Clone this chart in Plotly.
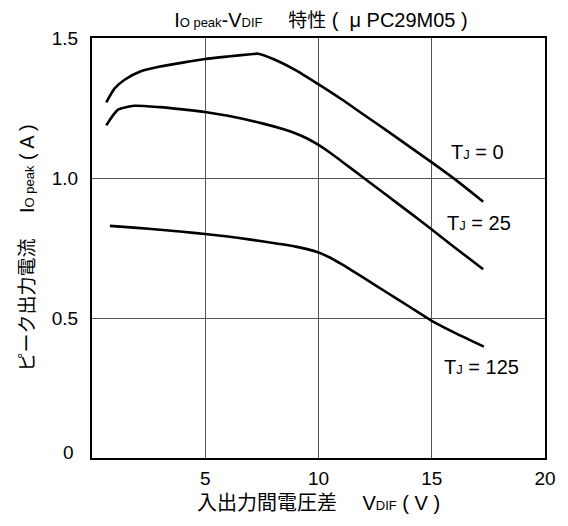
import plotly.graph_objects as go

# Tj = 0 °C
x_tj0 = [0.63, 1.0, 1.44, 2.16, 3.0, 4.0, 5.0, 6.0, 7.0, 7.33, 8.0, 8.97, 9.97, 11.0, 12.0, 13.0, 14.0, 15.0, 16.0, 17.0, 17.27]
y_tj0 = [1.270, 1.32, 1.351, 1.381, 1.398, 1.412, 1.425, 1.434, 1.442, 1.444, 1.425, 1.386, 1.336, 1.282, 1.226, 1.170, 1.113, 1.056, 0.997, 0.933, 0.915]

# Tj = 25 °C
x_tj25 = [0.63, 1.15, 1.87, 3.0, 4.0, 4.99, 6.0, 7.47, 8.5, 9.0, 9.5, 10.0, 10.5, 11.0, 12.0, 13.0, 14.0, 15.0, 16.0, 17.27]
y_tj25 = [1.188, 1.244, 1.258, 1.253, 1.245, 1.236, 1.222, 1.196, 1.173, 1.159, 1.141, 1.118, 1.091, 1.061, 1.000, 0.939, 0.878, 0.816, 0.753, 0.674]

# Tj = 125 °C
x_tj125 = [0.79, 2.0, 3.0, 4.0, 4.99, 6.0, 7.0, 8.0, 9.0, 9.5, 10.0, 10.5, 11.0, 12.0, 13.0, 14.0, 15.0, 16.0, 17.3]
y_tj125 = [0.829, 0.822, 0.815, 0.808, 0.800, 0.791, 0.780, 0.768, 0.755, 0.746, 0.734, 0.716, 0.693, 0.643, 0.592, 0.541, 0.490, 0.448, 0.398]

series_labels = ["T<span style='font-size:13px'>J</span> = 0",
                 "T<span style='font-size:13px'>J</span> = 25",
                 "T<span style='font-size:13px'>J</span> = 125"]

x_ticks = [5, 10, 15, 20]
y_ticks = [0.5, 1.0, 1.5]
y_tick_text = ["0.5", "1.0", "1.5"]

FONT = "Liberation Sans, Arial, Noto Sans CJK JP, sans-serif"

fig = go.Figure()
for xs, ys in [(x_tj0, y_tj0), (x_tj25, y_tj25), (x_tj125, y_tj125)]:
    fig.add_trace(go.Scatter(x=xs, y=ys, mode="lines",
                             line=dict(color="black", width=2.6, shape="spline", smoothing=0.6),
                             showlegend=False, hoverinfo="skip"))

# series labels placed in data coordinates
label_pos = [(15.75, 1.093), (15.6, 0.839), (15.45, 0.325)]
for (lx, ly), txt in zip(label_pos, series_labels):
    fig.add_annotation(x=lx, y=ly, text=txt, showarrow=False, xanchor="left",
                       font=dict(size=20, color="black", family=FONT))

# corner zero label
fig.add_annotation(x=0, y=0, text="0", showarrow=False, xanchor="right", yanchor="middle",
                   xshift=-16, yshift=6, font=dict(size=19, color="black", family=FONT))

fig.update_layout(
    width=568, height=526,
    margin=dict(l=92, r=12, t=38, b=68),
    paper_bgcolor="white", plot_bgcolor="white",
    font=dict(family=FONT, size=19, color="black"),
    title=dict(text="I<span style='font-size:13px'>O peak</span>-V<span style='font-size:13px'>DIF</span>"
                    "　 <span style='font-size:19px'>特性</span> (  μ PC29M05 )",
               x=0.565, xanchor="center", y=0.962, yanchor="middle",
               font=dict(size=20, color="black", family=FONT)),
    xaxis=dict(range=[0, 20], tickvals=x_ticks, ticktext=[str(v) for v in x_ticks],
               showgrid=True, gridcolor="#555555", gridwidth=1,
               showline=True, linecolor="black", linewidth=2, mirror=True,
               zeroline=False, ticks="", ticklabelstandoff=2,
               tickfont=dict(size=19),
               title=dict(text="<span style='font-size:20px'>入出力間電圧差</span>　 V<span style='font-size:13px'>DIF</span> ( V )",
                          font=dict(size=20, family=FONT), standoff=8)),
    yaxis=dict(range=[0, 1.5], tickvals=y_ticks, ticktext=y_tick_text,
               showgrid=True, gridcolor="#555555", gridwidth=1,
               showline=True, linecolor="black", linewidth=2, mirror=True,
               zeroline=False, ticks="", ticklabelstandoff=8,
               tickfont=dict(size=19),
               title=dict(text="<span style='font-size:19px'>ピーク出力電流</span>　 I<span style='font-size:13px'>O peak</span> ( A )",
                          font=dict(size=20, family=FONT), standoff=12)),
)

fig.write_html("out.html")
